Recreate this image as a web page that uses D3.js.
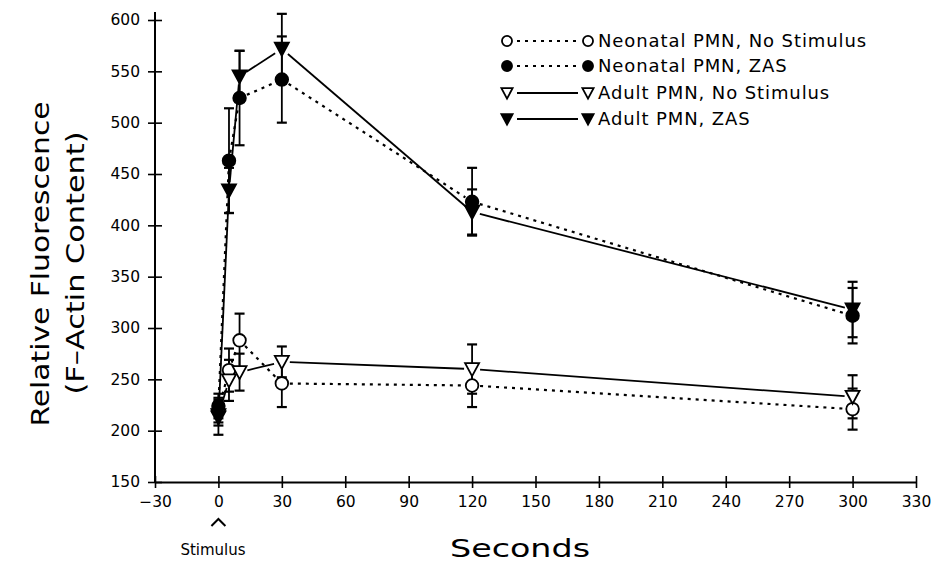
<!DOCTYPE html>
<html>
<head>
<meta charset="utf-8">
<script src="https://cdn.jsdelivr.net/npm/d3@7"></script>
<style>
  html, body { margin: 0; padding: 0; background: #fff; }
  svg text { font-family: "DejaVu Sans", "Liberation Sans", sans-serif; fill: #000; }
</style>
</head>
<body>
<svg id="chart" width="934" height="569"></svg>
<script>
// ---- data ----
const times = [0, 5, 10, 30, 120, 300];

const neoNoStim      = [220, 259, 288, 246, 244, 221];
const neoNoStimErr   = [12, 21, 26, 23, 21, 20];

const neoZAS         = [224, 463, 524, 542, 423, 312];
const neoZASErr      = [12, 51, 46, 42, 33, 27];

const adultNoStim    = [215, 249, 257, 267, 260, 233];
const adultNoStimErr = [10, 20, 18, 15, 24, 21];

const adultZAS       = [213, 434, 545, 572, 413, 318];
const adultZASErr    = [17, 22, 25, 34, 22, 27];

const xTicks = [-30, 0, 30, 60, 90, 120, 150, 180, 210, 240, 270, 300, 330];
const yTicks = [150, 200, 250, 300, 350, 400, 450, 500, 550, 600];

const seriesNames = ["Neonatal PMN, No Stimulus", "Neonatal PMN, ZAS", "Adult PMN, No Stimulus", "Adult PMN, ZAS"];

// ---- build ----
const series = [
  { name: seriesNames[0], vals: neoNoStim,   err: neoNoStimErr,   shape: "circle",   filled: false, dashed: true },
  { name: seriesNames[1], vals: neoZAS,      err: neoZASErr,      shape: "circle",   filled: true,  dashed: true },
  { name: seriesNames[2], vals: adultNoStim, err: adultNoStimErr, shape: "triangle", filled: false, dashed: false },
  { name: seriesNames[3], vals: adultZAS,    err: adultZASErr,    shape: "triangle", filled: true,  dashed: false }
];

const svg = d3.select("#chart");
const x = d3.scaleLinear().domain([-30, 330]).range([155, 916]);
const y = d3.scaleLinear().domain([150, 600]).range([482, 20]);

// axes
const yAxis = svg.append("g").attr("transform", `translate(${x(-30)},0)`)
  .call(d3.axisLeft(y).tickValues(yTicks).tickSizeOuter(0).tickSizeInner(7).tickPadding(6).tickFormat(d3.format("d")));
yAxis.selectAll(".tick line").attr("x1", -7).attr("x2", 7).attr("stroke-width", 1.6);
yAxis.select(".domain").attr("stroke-width", 2).attr("d", `M0,${y(150)}V${y(600) - 8}`);
yAxis.selectAll(".tick text").attr("font-size", 15.5).attr("font-family", "DejaVu Sans").attr("dx", -2);

const xAxis = svg.append("g").attr("transform", `translate(0,${y(150)})`)
  .call(d3.axisBottom(x).tickValues(xTicks).tickSizeOuter(0).tickSizeInner(6).tickPadding(8).tickFormat(d3.format("d")));
xAxis.selectAll(".tick line").attr("y1", -6).attr("y2", 6).attr("stroke-width", 1.6);
xAxis.select(".domain").attr("stroke-width", 2);
xAxis.selectAll(".tick text").attr("font-size", 15.5).attr("font-family", "DejaVu Sans");

// axis titles
svg.append("text").attr("transform", "translate(49,264) rotate(-90)")
  .attr("text-anchor", "middle").attr("font-size", 25)
  .attr("textLength", 325).attr("lengthAdjust", "spacingAndGlyphs").text("Relative Fluorescence");
svg.append("text").attr("transform", "translate(84,263) rotate(-90)")
  .attr("text-anchor", "middle").attr("font-size", 25)
  .attr("textLength", 263).attr("lengthAdjust", "spacingAndGlyphs").text("(F\u2013Actin Content)");
svg.append("text").attr("x", 520).attr("y", 557).attr("text-anchor", "middle")
  .attr("font-size", 25).attr("textLength", 140).attr("lengthAdjust", "spacingAndGlyphs").text("Seconds");
svg.append("text").attr("x", 213).attr("y", 555).attr("text-anchor", "middle")
  .attr("font-size", 15).text("Stimulus");
svg.append("path")
  .attr("d", `M${x(0) - 7},${526} L${x(0)},${519} L${x(0) + 7},${526}`)
  .attr("fill", "none").attr("stroke", "#000").attr("stroke-width", 2);

// lines (with gaps near markers)
const gap = 8;
series.forEach(s => {
  const pts = times.map((t, i) => [x(t), y(s.vals[i])]);
  for (let i = 0; i < pts.length - 1; i++) {
    const [x1, y1] = pts[i], [x2, y2] = pts[i + 1];
    const len = Math.hypot(x2 - x1, y2 - y1);
    if (len <= 2 * gap + 2) continue;
    const ux = (x2 - x1) / len, uy = (y2 - y1) / len;
    svg.append("line")
      .attr("x1", x1 + ux * gap).attr("y1", y1 + uy * gap)
      .attr("x2", x2 - ux * gap).attr("y2", y2 - uy * gap)
      .attr("stroke", "#000").attr("stroke-width", s.dashed ? 2.2 : 1.8)
      .attr("stroke-dasharray", s.dashed ? "3,5" : null);
  }
});

// error bars
const cap = 5;
series.forEach(s => {
  const eg = svg.append("g").attr("stroke", "#000").attr("stroke-width", 1.8);
  times.forEach((t, i) => {
    const cx = x(t), top = y(s.vals[i] + s.err[i]), bot = y(s.vals[i] - s.err[i]);
    eg.append("line").attr("x1", cx).attr("x2", cx).attr("y1", top).attr("y2", bot);
    eg.append("line").attr("x1", cx - cap).attr("x2", cx + cap).attr("y1", top).attr("y2", top).attr("stroke-width", 2.2);
    eg.append("line").attr("x1", cx - cap).attr("x2", cx + cap).attr("y1", bot).attr("y2", bot).attr("stroke-width", 2.2);
  });
});

// markers
function drawMarker(g, shape, filled, cx, cy, scale) {
  const k = scale || 1;
  if (shape === "circle") {
    g.append("circle").attr("cx", cx).attr("cy", cy).attr("r", 6.3 * k)
      .attr("fill", filled ? "#000" : "#fff").attr("stroke", "#000").attr("stroke-width", 1.8);
  } else {
    g.append("path")
      .attr("d", `M${cx - 7 * k},${cy - 6 * k} L${cx + 7 * k},${cy - 6 * k} L${cx},${cy + 7 * k} Z`)
      .attr("fill", filled ? "#000" : "#fff").attr("stroke", "#000").attr("stroke-width", 1.8)
      .attr("stroke-linejoin", "miter");
  }
}
[0, 2, 1, 3].forEach(si => {
  const s = series[si];
  const mg = svg.append("g");
  times.forEach((t, i) => drawMarker(mg, s.shape, s.filled, x(t), y(s.vals[i])));
});

// legend
const legY = [41, 66, 93, 119];
const lg = svg.append("g");
series.forEach((s, i) => {
  const yy = legY[i];
  drawMarker(lg, s.shape, s.filled, 507, yy, 0.8);
  lg.append("line").attr("x1", 517).attr("x2", 578).attr("y1", yy).attr("y2", yy)
    .attr("stroke", "#000").attr("stroke-width", s.dashed ? 2.2 : 1.8)
    .attr("stroke-dasharray", s.dashed ? "3,5" : null);
  drawMarker(lg, s.shape, s.filled, 588, yy, 0.8);
  lg.append("text").attr("x", 598).attr("y", yy + 6).attr("font-size", 18)
    .attr("letter-spacing", 0.9).text(s.name);
});
</script>
</body>
</html>
